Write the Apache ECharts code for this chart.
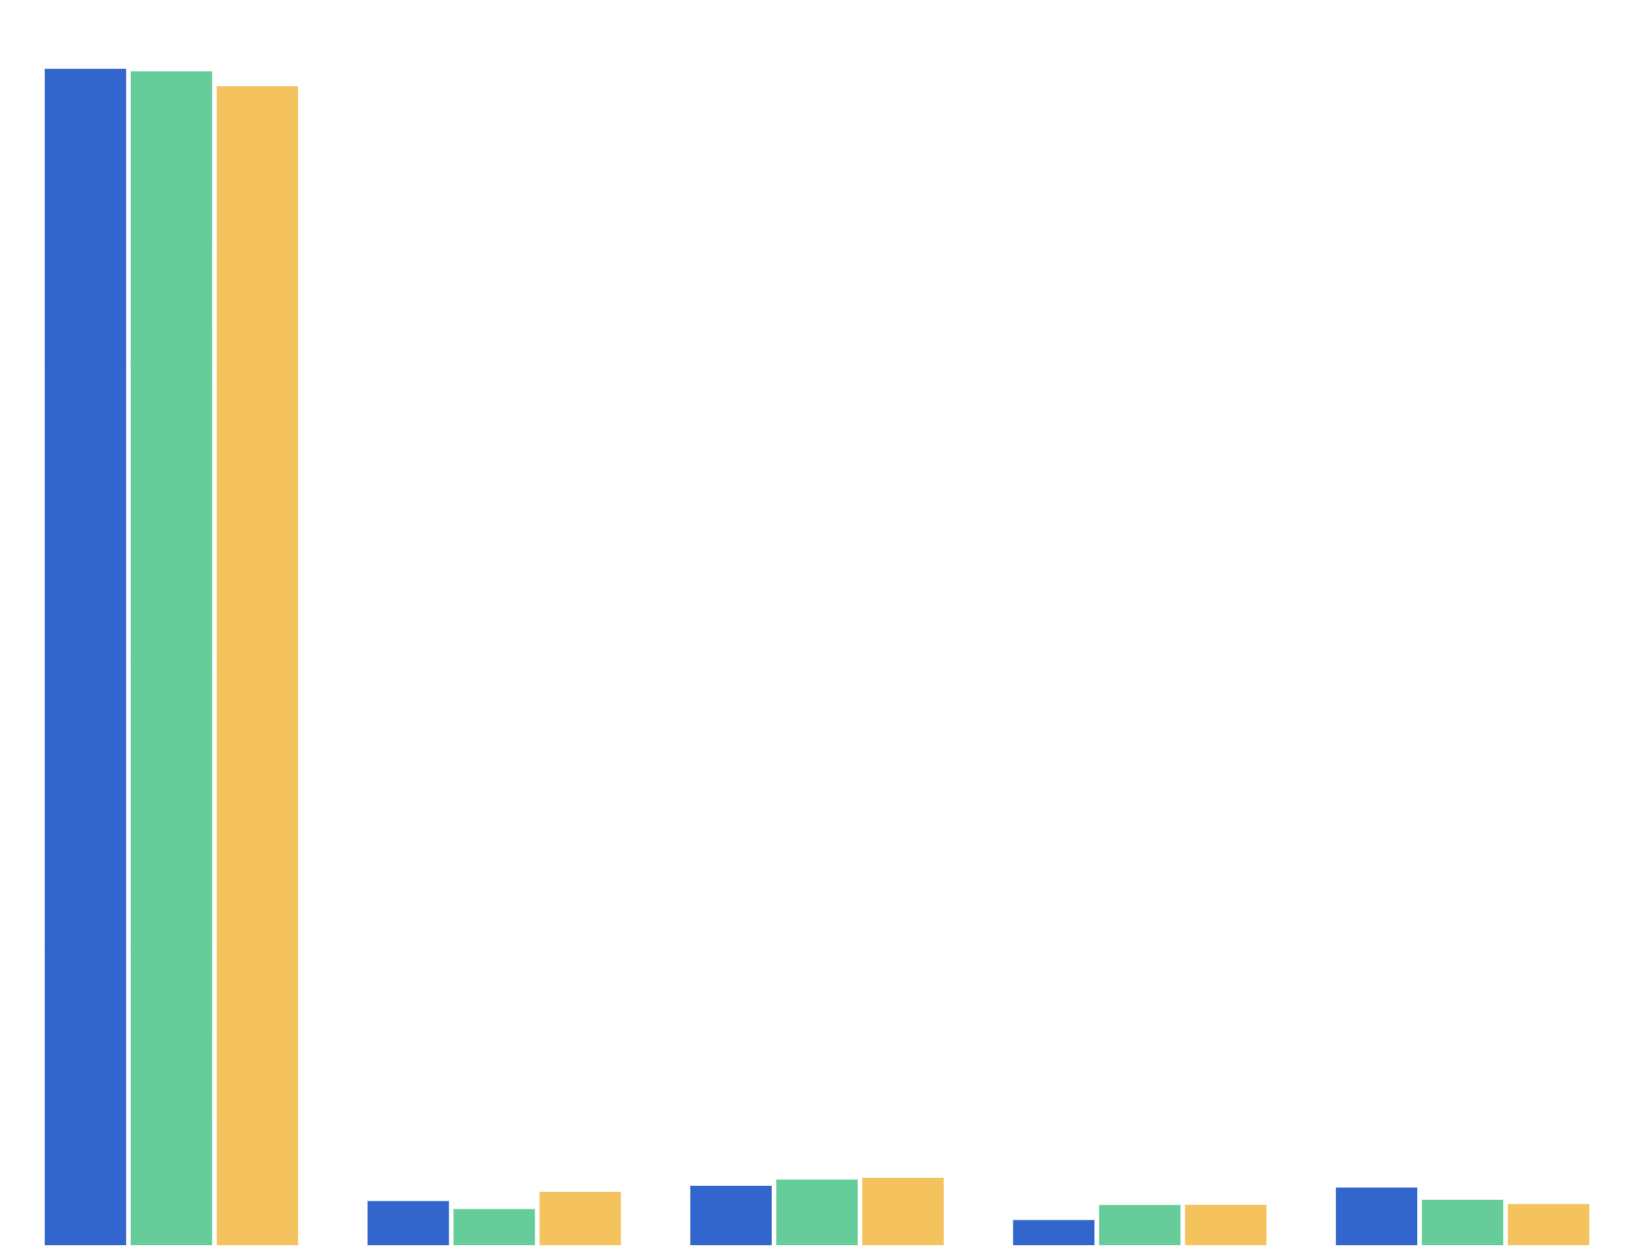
<!DOCTYPE html>
<html>
<head>
<meta charset="utf-8">
<script src="https://cdn.jsdelivr.net/npm/echarts@6/dist/echarts.min.js"></script>
<style>
  html, body { margin: 0; padding: 0; background: #fff; }
  #chart { width: 1634px; height: 1255px; }
</style>
</head>
<body>
<div id="chart"></div>
<script>
// categories + three series (axis max 100)
const categories = ['A', 'B', 'C', 'D', 'E'];
const seriesNames = ['Series 1', 'Series 2', 'Series 3'];
const series1 = [95.3, 3.7, 4.94, 2.16, 4.80];
const series2 = [95.1, 3.05, 5.45, 3.38, 3.81];
const series3 = [93.9, 4.45, 5.59, 3.40, 3.46];
const colors = ['#3366CC', '#66CC99', '#F4C35E'];

var myChart = echarts.init(document.getElementById('chart'));

function makeSeries(name, data, color) {
    return {
        type: 'bar',
        name: name,
        data: data,
        barWidth: 83,
        barGap: '3.6%',
        itemStyle: {
            color: color,
            borderColor: 'rgba(255,255,255,0.6)',
            borderWidth: 1
        }
    };
}

var option = {
    backgroundColor: '#fff',
    animation: false,
    grid: { left: 10, right: 10, top: 10, bottom: 9, containLabel: false },
    xAxis: {
        type: 'category',
        data: categories,
        axisLine: { show: false },
        axisTick: { show: false },
        axisLabel: { show: false },
        splitLine: { show: false }
    },
    yAxis: {
        type: 'value',
        min: 0,
        max: 100,
        axisLine: { show: false },
        axisTick: { show: false },
        axisLabel: { show: false },
        splitLine: { show: false }
    },
    series: [
        makeSeries(seriesNames[0], series1, colors[0]),
        makeSeries(seriesNames[1], series2, colors[1]),
        makeSeries(seriesNames[2], series3, colors[2])
    ]
};

myChart.setOption(option);
</script>
</body>
</html>
